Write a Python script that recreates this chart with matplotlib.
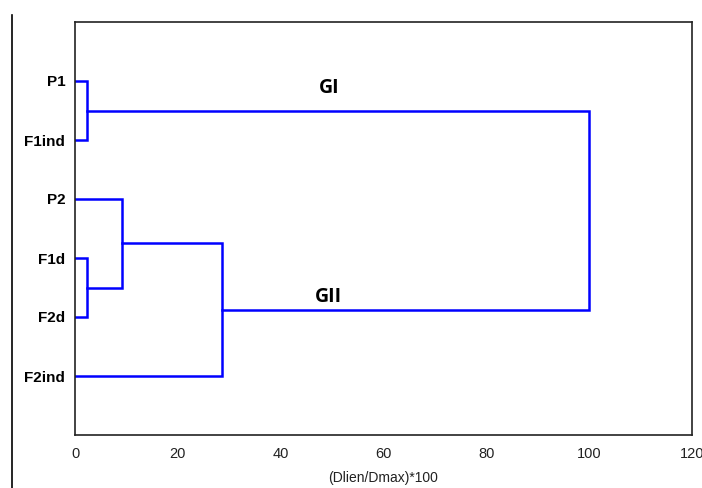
import matplotlib
matplotlib.use("Agg")
import matplotlib.pyplot as plt

leaves = ["P1", "F1ind", "P2", "F1d", "F2d", "F2ind"]
# merges: (left node, right node, distance); nodes >= len(leaves) are clusters
merge_left = [0, 3, 2, 8, 6]
merge_right = [1, 4, 7, 5, 9]
merge_dist = [2.3, 2.3, 9.1, 28.6, 100.0]
xticks = [0, 20, 40, 60, 80, 100, 120]

fig = plt.figure(figsize=(7.02, 4.88), dpi=100)
ax = fig.add_axes([75/702, 1-435/488, 617/702, 413/488])

n = len(leaves)
ypos = {i: i + 1 for i in range(n)}
height = {i: 0.0 for i in range(n)}
for k, (a, b, d) in enumerate(zip(merge_left, merge_right, merge_dist)):
    ax.plot([height[a], d, d, height[b]], [ypos[a], ypos[a], ypos[b], ypos[b]],
            color="#0000ff", lw=1.8, solid_joinstyle="miter")
    ypos[n + k] = (ypos[a] + ypos[b]) / 2
    height[n + k] = d

ax.set_xlim(0, 120)
ax.set_ylim(7, 0)
ax.set_xticks(xticks)
ax.set_xticklabels([str(t) for t in xticks], family="Liberation Sans", fontsize=10.5, color="#222222")
ax.set_yticks(range(1, n + 1))
ax.set_yticklabels(leaves, family="Liberation Sans", fontsize=11, fontweight="bold")
ax.tick_params(length=0, pad=7)
ax.tick_params(axis="x", pad=9)
for s in ax.spines.values():
    s.set_color("#222222")
    s.set_linewidth(1.2)
ax.set_xlabel("(Dlien/Dmax)*100", family="Liberation Sans", fontsize=10, labelpad=7, color="#222222")

ax.text(49.5, 1.12, "GI", family="Open Sans", fontweight="bold", fontsize=14, ha="center", va="center")
ax.text(49.2, 4.66, "GII", family="Open Sans", fontweight="bold", fontsize=14, ha="center", va="center")

fig.add_artist(plt.Line2D([12/702, 12/702], [0, 1-15/488], color="black", lw=1.2))

fig.savefig("out.png", dpi=100)
